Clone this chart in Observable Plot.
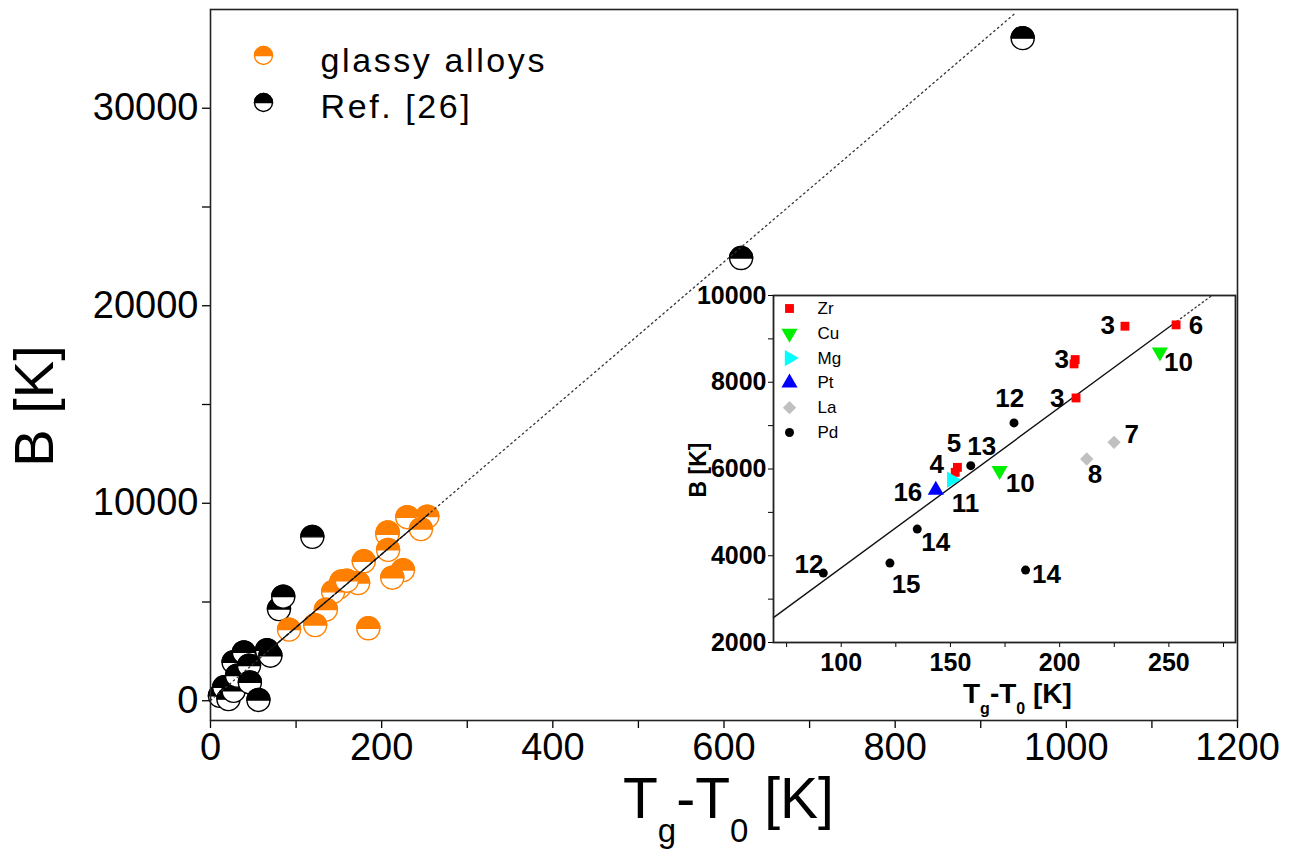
<!DOCTYPE html>
<html>
<head>
<meta charset="utf-8">
<script src="https://cdn.jsdelivr.net/npm/d3@7"></script>
<script src="https://cdn.jsdelivr.net/npm/@observablehq/plot@0.6"></script>
<style>
  html, body { margin: 0; padding: 0; background: white; }
  #wrap { position: relative; width: 1296px; height: 856px; overflow: hidden; }
  #inset { position: absolute; left: 680px; top: 280px; }
</style>
</head>
<body>
<div id="wrap"><div id="main"></div><div id="inset"></div></div>
<script>
// ---------------- DATA ----------------
// Inset / glassy alloys: Tg - T0 [K] and B [K] by alloy family
const zrT = [229.9, 253.3, 207.1, 206.6, 207.5, 153.2, 152.2];
const zrB = [9292, 9323, 8523, 8423, 7638, 6038, 5923];
const cuT = [245.9, 172.5];
const cuB = [8692, 5962];
const mgT = [150.6];
const mgB = [5754];
const ptT = [143.3];
const ptB = [5515];
const laT = [224.9, 212.4];
const laB = [6615, 6231];
const pdT = [179.1, 159.3, 134.8, 122.3, 91.8, 184.4];
const pdB = [7062, 6077, 4615, 3831, 3600, 3669];

// Ref. [26] data points
const refT = [11, 16, 21, 27, 27, 31, 39, 45, 46, 66, 70, 56, 80, 85, 119, 620, 949];
const refB = [250, 680, 80, 500, 1950, 1270, 2450, 1780, 930, 2560, 2280, 40, 4640, 5270, 8300, 22415, 33550];

// Linear fit line B vs Tg-T0
const fitDotT = [0, 940];
const fitDotB = [20, 34800];
const fitSolidT = [70, 255];
const fitSolidB = [2610, 9455];
const insetSolidT = [69, 252];
const insetSolidB = [2573, 9344];
const insetDotT = [252, 270];
const insetDotB = [9344, 10010];

// Inset reference-number labels
const labelText = ["3", "6", "3", "10", "3", "12", "7", "5", "13", "4", "8", "10", "16", "11", "14", "12", "15", "14"];
const labelT = [222.0, 262.4, 200.9, 254.4, 198.9, 177.1, 233.0, 151.6, 164.3, 143.7, 216.2, 181.9, 130.5, 156.9, 143.3, 85.2, 129.7, 194.0];
const labelB = [9308, 9308, 8523, 8462, 7615, 7615, 6792, 6592, 6515, 6100, 5869, 5669, 5462, 5208, 4308, 3792, 3331, 3562];

const elements = ["Zr", "Cu", "Mg", "Pt", "La", "Pd"];
const legendMain = ["glassy alloys", "Ref. [26]"];

// ticks
const xMajor = [0, 200, 400, 600, 800, 1000, 1200];
const xMinor = [100, 300, 500, 700, 900, 1100];
const yMajor = [0, 10000, 20000, 30000];
const yMinor = [5000, 15000, 25000];
const ixMajor = [100, 150, 200, 250];
const ixMinor = [75, 125, 175, 225, 275];
const iyMajor = [2000, 4000, 6000, 8000, 10000];
const iyMinor = [3000, 5000, 7000, 9000];

// ---------------- STYLE ----------------
const FONT = '"Liberation Sans", Arial, Helvetica, sans-serif';
const ORANGE = "#ff8000";

const halfTop = {
  draw(ctx, size) {
    const r = Math.sqrt(size / Math.PI);
    ctx.moveTo(-r, 0);
    ctx.arc(0, 0, r, Math.PI, 2 * Math.PI);
    ctx.closePath();
  }
};

function halfMarks(ts, bs, color, r) {
  return ts.flatMap((t, i) => [
    Plot.dot([[t, bs[i]]], {x: d => d[0], y: d => d[1], r, fill: "white", stroke: color, strokeWidth: 1.4}),
    Plot.dot([[t, bs[i]]], {x: d => d[0], y: d => d[1], r, symbol: halfTop, fill: color, stroke: color, strokeWidth: 1.4})
  ]);
}

const glassT = [].concat(zrT, cuT, mgT, ptT, laT, pdT);
const glassB = [].concat(zrB, cuB, mgB, ptB, laB, pdB);

const pts = (ts, bs) => ts.map((t, i) => ({t, b: bs[i]}));

// ---------------- MAIN PLOT ----------------
const main = Plot.plot({
  width: 1296,
  height: 856,
  marginLeft: 210,
  marginRight: 59,
  marginTop: 9,
  marginBottom: 136,
  style: {fontFamily: FONT, color: "black", background: "white"},
  x: {domain: [0, 1200], axis: null},
  y: {domain: [-1000, 35000], axis: null},
  marks: [
    Plot.axisX({ticks: xMajor, tickSize: 8, tickPadding: 5, fontSize: 38, tickFormat: d => String(d), label: null, strokeWidth: 1.3}),
    Plot.axisX({ticks: xMinor, tickSize: 8, tickFormat: () => "", label: null, strokeWidth: 1.3}),
    Plot.axisY({ticks: yMajor, tickSize: 8, tickPadding: 4, fontSize: 38, tickFormat: d => String(d), label: null, strokeWidth: 1.3}),
    Plot.axisY({ticks: yMinor, tickSize: 8, tickFormat: () => "", label: null, strokeWidth: 1.3}),
    ...halfMarks(refT, refB, "black", 11.5),
    ...halfMarks(glassT, glassB, ORANGE, 11.5),
    Plot.line(pts(fitDotT, fitDotB), {x: "t", y: "b", stroke: "#333", strokeWidth: 1.3, strokeDasharray: "1.5,3.5"}),
    Plot.line(pts(fitSolidT, fitSolidB), {x: "t", y: "b", stroke: "#111", strokeWidth: 1.4, strokeDasharray: "7,1.5"}),
    Plot.frame({stroke: "#222", strokeWidth: 1.6}),
    // legend
    Plot.dot([0], {frameAnchor: "top-left", dx: 53, dy: 46, r: 9, fill: "white", stroke: ORANGE, strokeWidth: 1.4}),
    Plot.dot([0], {frameAnchor: "top-left", dx: 53, dy: 46, r: 9, symbol: halfTop, fill: ORANGE, stroke: ORANGE, strokeWidth: 1.4}),
    Plot.dot([0], {frameAnchor: "top-left", dx: 53, dy: 93, r: 9, fill: "white", stroke: "black", strokeWidth: 1.4}),
    Plot.dot([0], {frameAnchor: "top-left", dx: 53, dy: 93, r: 9, symbol: halfTop, fill: "black", stroke: "black", strokeWidth: 1.4}),
    Plot.text([legendMain[0]], {frameAnchor: "top-left", dx: 110, dy: 51.5, text: d => d, textAnchor: "start", lineAnchor: "middle", fontSize: 34, fill: "black"}),
    Plot.text([legendMain[1]], {frameAnchor: "top-left", dx: 110, dy: 98, text: d => d, textAnchor: "start", lineAnchor: "middle", fontSize: 34, fill: "black"})
  ]
});
document.getElementById("main").appendChild(main);

{
  const svg = d3.select(main);
  svg.selectAll("text").filter(function () { return this.textContent === legendMain[0] || this.textContent === legendMain[1]; })
    .style("letter-spacing", "2.6px");
  // y label
  svg.append("text")
    .attr("transform", "translate(53,406) rotate(-90)")
    .attr("text-anchor", "middle")
    .attr("font-family", FONT)
    .attr("font-size", 56)
    .attr("fill", "black")
    .text("B [K]");
  // x label with subscripts
  const xl = svg.append("text")
    .attr("x", 623).attr("y", 818)
    .attr("text-anchor", "start")
    .attr("font-family", FONT)
    .attr("font-size", 57)
    .attr("fill", "black");
  xl.append("tspan").text("T");
  xl.append("tspan").attr("font-size", 33).attr("dy", 24).text("g");
  xl.append("tspan").attr("dy", -24).text("-T");
  xl.append("tspan").attr("font-size", 33).attr("dy", 24).text("0");
  xl.append("tspan").attr("dy", -24).text(" [K]");
}

// ---------------- INSET ----------------
const elemStyle = {
  Zr: {symbol: "square", fill: "#ff0000", rotate: 0, r: 5},
  Cu: {symbol: "triangle", fill: "#00ee00", rotate: 180, r: 6},
  Mg: {symbol: "triangle", fill: "#00ffff", rotate: 90, r: 6},
  Pt: {symbol: "triangle", fill: "#0000ff", rotate: 0, r: 6},
  La: {symbol: "diamond2", fill: "#c0c0c0", rotate: 0, r: 6},
  Pd: {symbol: "circle", fill: "black", rotate: 0, r: 4.5}
};
const elemData = {Zr: [zrT, zrB], Cu: [cuT, cuB], Mg: [mgT, mgB], Pt: [ptT, ptB], La: [laT, laB], Pd: [pdT, pdB]};

const inset = Plot.plot({
  width: 570,
  height: 440,
  marginLeft: 93,
  marginTop: 15,
  marginRight: 15,
  marginBottom: 78,
  style: {fontFamily: FONT, color: "black", background: "transparent", overflow: "visible"},
  x: {domain: [69, 280.5], axis: null},
  y: {domain: [2000, 10000], axis: null},
  marks: [
    Plot.frame({fill: "white", stroke: null}),
    Plot.axisX({ticks: ixMajor, tickSize: 5, tickPadding: 6, fontSize: 25, fontWeight: "bold", tickFormat: d => String(d), label: null}),
    Plot.axisX({ticks: ixMinor, tickSize: 5, tickFormat: () => "", label: null}),
    Plot.axisY({ticks: iyMajor, tickSize: 5, tickPadding: 2, fontSize: 25, fontWeight: "bold", tickFormat: d => String(d), label: null}),
    Plot.axisY({ticks: iyMinor, tickSize: 5, tickFormat: () => "", label: null}),
    Plot.line(pts(insetSolidT, insetSolidB), {x: "t", y: "b", stroke: "#111", strokeWidth: 1.4}),
    Plot.line(pts(insetDotT, insetDotB), {x: "t", y: "b", stroke: "#333", strokeWidth: 1.3, strokeDasharray: "1.5,3"}),
    ...elements.map(el => Plot.dot(pts(elemData[el][0], elemData[el][1]), {
      x: "t", y: "b", symbol: elemStyle[el].symbol, fill: elemStyle[el].fill, r: elemStyle[el].r, rotate: elemStyle[el].rotate, stroke: null
    })),
    Plot.text(labelText.map((s, i) => ({s, t: labelT[i], b: labelB[i]})), {x: "t", y: "b", text: "s", fontSize: 26, fontWeight: "bold", fill: "black"}),
    // legend
    ...elements.map((el, i) => Plot.dot([el], {frameAnchor: "top-left", dx: 16, dy: 13 + i * 24.8, symbol: elemStyle[el].symbol, fill: elemStyle[el].fill, r: elemStyle[el].r, rotate: elemStyle[el].rotate})),
    ...elements.map((el, i) => Plot.text([el], {frameAnchor: "top-left", dx: 44, dy: 13 + i * 24.8, text: d => d, textAnchor: "start", lineAnchor: "middle", fontSize: 17, fill: "black"})),
    Plot.frame({stroke: "#222", strokeWidth: 1.8})
  ]
});
document.getElementById("inset").appendChild(inset);

{
  const svg = d3.select(inset);
  svg.append("text")
    .attr("transform", "translate(26,190) rotate(-90)")
    .attr("text-anchor", "middle")
    .attr("font-family", FONT)
    .attr("font-size", 23)
    .attr("font-weight", "bold")
    .attr("fill", "black")
    .text("B [K]");
  const xl = svg.append("text")
    .attr("x", 283).attr("y", 423)
    .attr("text-anchor", "start")
    .attr("font-family", FONT)
    .attr("font-size", 28)
    .attr("font-weight", "bold")
    .attr("fill", "black");
  xl.append("tspan").text("T");
  xl.append("tspan").attr("font-size", 16).attr("dy", 11).text("g");
  xl.append("tspan").attr("dy", -11).text("-T");
  xl.append("tspan").attr("font-size", 16).attr("dy", 11).text("0");
  xl.append("tspan").attr("dy", -11).text(" [K]");
}
</script>
</body>
</html>
